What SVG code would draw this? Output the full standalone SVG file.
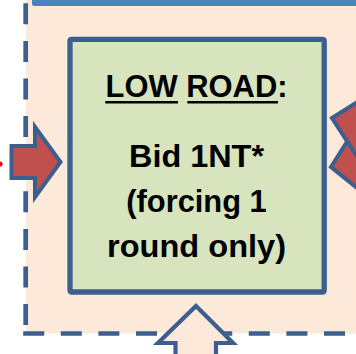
<svg xmlns="http://www.w3.org/2000/svg" width="356" height="354" viewBox="0 0 356 354">
<style>
.dash{stroke:#3b5f8e;stroke-width:4.7;fill:none}
.red{fill:#c0504d;stroke:#3b5f8e;stroke-width:4;stroke-linejoin:miter}
.t{font-family:"Liberation Sans",Arial,sans-serif;font-weight:bold;font-size:32px;fill:#000;text-anchor:middle}
.ul{stroke:#000;stroke-width:2.4}
</style>
<rect width="356" height="354" fill="#ffffff"/>
<g id="region">
<rect x="25.7" y="-10" width="345" height="343.5" fill="#fde9d9"/>
<rect x="32" y="-6" width="340" height="12" rx="2" fill="#4f81bd"/>
<line class="dash" x1="25.7" y1="3.3" x2="25.7" y2="333.5" stroke-dasharray="21 16.6"/>
<line class="dash" x1="23.2" y1="333.5" x2="356" y2="333.5" stroke-dasharray="21 16.6"/>
</g>
<g id="connectors">
<polygon class="red" points="11.5,146 35,146 35,127 60.5,162 35,197 35,178 11.5,178"/>
<polygon class="red" points="331,167 362,118 362,192"/>
<polygon class="red" points="332,118 362,99 362,164"/>
<polygon points="196,306 233,343 216,343 216,362 175.5,362 175.5,343 158,343" fill="#fde9d9" stroke="#3b5f8e" stroke-width="4.2"/>
<circle cx="0" cy="164" r="2.6" fill="#ff0000"/>
</g>
<g id="low-road">
<rect x="70" y="39.3" width="254.2" height="252.7" rx="1.5" fill="#d7e4bd" stroke="#3b5f8e" stroke-width="5.3"/>
<text class="t" x="196.5" y="97" textLength="182" lengthAdjust="spacingAndGlyphs">LOW ROAD:</text>
<line class="ul" x1="105.3" y1="102.2" x2="178" y2="102.2"/>
<line class="ul" x1="187.3" y1="102.2" x2="278" y2="102.2"/>
<text class="t" x="196.5" y="166.5" textLength="135" lengthAdjust="spacingAndGlyphs">Bid 1NT*</text>
<text class="t" x="196.5" y="211.7" textLength="140.5" lengthAdjust="spacingAndGlyphs">(forcing 1</text>
<text class="t" x="196.5" y="257.3" textLength="179" lengthAdjust="spacingAndGlyphs">round only)</text>
</g>
</svg>
